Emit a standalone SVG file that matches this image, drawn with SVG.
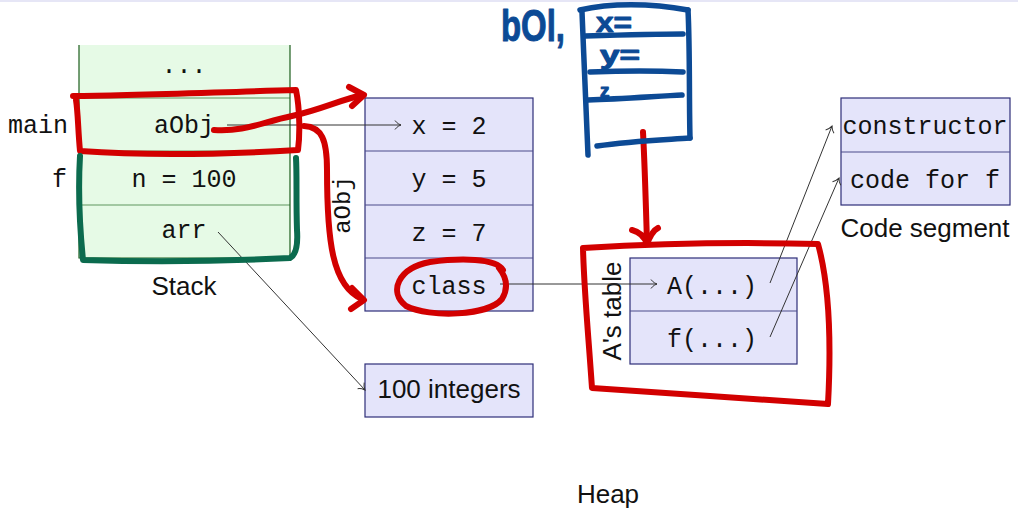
<svg xmlns="http://www.w3.org/2000/svg" width="1018" height="509" viewBox="0 0 1018 509">
  <style>
    .mono { font-family: "Liberation Mono", "DejaVu Sans Mono", monospace; font-size: 25px; fill: #111; }
    .sans { font-family: "Liberation Sans", "DejaVu Sans", sans-serif; font-size: 26px; fill: #111; }
    .stack { fill: #e6fae6; stroke: none; }
    .stack-edge { stroke: #1d5e1d; stroke-width: 1.2; fill: none; }
    .stack-sep { stroke: #5e965e; stroke-width: 1.2; }
    .cell { fill: #e4e4fa; stroke: #2e2e78; stroke-width: 1.2; }
    .sep { stroke: #4a4a8a; stroke-width: 1.2; }
    .link { stroke: #333; stroke-width: 1; fill: none; marker-end: url(#tip); }
    .red { stroke: #d20000; stroke-width: 6; fill: none; stroke-linecap: round; stroke-linejoin: round; }
    .green { stroke: #0b6b4e; stroke-width: 6; fill: none; stroke-linecap: round; stroke-linejoin: round; }
    .blue { stroke: #0c4a95; stroke-width: 5.5; fill: none; stroke-linecap: round; stroke-linejoin: round; }
    .hand { font-family: "Liberation Sans", "DejaVu Sans", sans-serif; font-weight: bold; fill: #0c4a95; stroke: #0c4a95; stroke-width: 1; stroke-linejoin: round; }
  </style>
  <defs>
    <marker id="tip" viewBox="-8 -6 10 12" markerWidth="10" markerHeight="12" refX="0" refY="0" orient="auto" markerUnits="userSpaceOnUse">
      <path d="M -6 -4.5 C -4 -1.5 -1 -0.4 0 0 C -1 0.4 -4 1.5 -6 4.5" fill="none" stroke="#333" stroke-width="1"/>
    </marker>
  </defs>

  <rect x="0" y="0" width="1018" height="509" fill="#fff"/>
  <rect x="0" y="0" width="1018" height="2" fill="#e6e6f6"/>

  <!-- call stack -->
  <g id="stack">
    <rect class="stack" x="79" y="45" width="211" height="213"/>
    <line class="stack-sep" x1="79" y1="98" x2="290" y2="98"/>
    <line class="stack-sep" x1="79" y1="151" x2="290" y2="151"/>
    <line class="stack-sep" x1="79" y1="205" x2="290" y2="205"/>
    <path class="stack-edge" d="M 79 45 L 79 258 L 290 258 L 290 45"/>
    <text class="mono" x="184" y="73" text-anchor="middle">...</text>
    <text class="mono" x="184" y="133" text-anchor="middle">aObj</text>
    <text class="mono" x="184" y="187" text-anchor="middle">n = 100</text>
    <text class="mono" x="184" y="238" text-anchor="middle">arr</text>
    <text class="mono" x="68" y="133" text-anchor="end">main</text>
    <text class="mono" x="67" y="187" text-anchor="end">f</text>
    <text class="sans" x="184" y="295" text-anchor="middle">Stack</text>
  </g>

  <!-- object aObj on the heap -->
  <g id="aobj">
    <rect class="cell" x="365" y="98" width="168" height="213"/>
    <line class="sep" x1="365" y1="151" x2="533" y2="151"/>
    <line class="sep" x1="365" y1="205" x2="533" y2="205"/>
    <line class="sep" x1="365" y1="258" x2="533" y2="258"/>
    <text class="mono" x="449" y="134" text-anchor="middle">x = 2</text>
    <text class="mono" x="449" y="187" text-anchor="middle">y = 5</text>
    <text class="mono" x="449" y="241" text-anchor="middle">z = 7</text>
    <text class="mono" x="449" y="294" text-anchor="middle">class</text>
    <text class="mono" style="font-size:24px" x="0" y="0" text-anchor="middle" transform="translate(350 205) rotate(-90)">aObj</text>
  </g>

  <!-- array of integers -->
  <g id="ints">
    <rect class="cell" x="365" y="364" width="168" height="53"/>
    <text class="sans" x="449" y="398" text-anchor="middle">100 integers</text>
  </g>

  <!-- virtual table of class A -->
  <g id="vtable">
    <rect class="cell" x="630" y="258" width="167" height="106"/>
    <line class="sep" x1="630" y1="311" x2="797" y2="311"/>
    <text class="mono" x="712" y="294" text-anchor="middle">A(...)</text>
    <text class="mono" x="712" y="347" text-anchor="middle">f(...)</text>
    <text class="sans" x="0" y="0" text-anchor="middle" transform="translate(621 311) rotate(-90)">A's table</text>
  </g>

  <!-- code segment -->
  <g id="code">
    <rect class="cell" x="841" y="98" width="169" height="107"/>
    <line class="sep" x1="841" y1="152" x2="1010" y2="152"/>
    <text class="mono" x="925" y="134" text-anchor="middle">constructor</text>
    <text class="mono" x="925" y="188" text-anchor="middle">code for f</text>
    <text class="sans" x="925" y="237" text-anchor="middle">Code segment</text>
  </g>

  <g id="heap-label">
    <text class="sans" x="608" y="503" text-anchor="middle">Heap</text>
  </g>

  <!-- pointers -->
  <g id="connectors">
    <path class="link" d="M 227 125 L 401 125"/>
    <path class="link" d="M 218 232 L 365 390"/>
    <path class="link" d="M 500 284 L 657 284"/>
    <path class="link" d="M 770 283 L 832 126"/>
    <path class="link" d="M 770 337 L 839 178"/>
  </g>

  <!-- pen annotations -->
  <g id="annotations">
    <!-- frame of main -->
    <path class="red" d="M 73 96 C 130 96 220 92 296 90 C 300 110 300 135 298 150 C 230 154 150 156 80 151 C 78 130 78 112 76 100"/>
    <!-- aObj reference -->
    <path class="red" d="M 214 130 C 245 132 262 122 292 116 C 320 110 340 100 362 95"/>
    <path class="red" d="M 349 87 L 364 95 L 352 106"/>
    <!-- extent of aObj -->
    <path class="red" d="M 304 126 C 322 127 327 140 327 170 C 327 240 332 286 362 299"/>
    <path class="red" d="M 352 288 L 364 300 L 351 309"/>
    <!-- class pointer -->
    <path class="red" d="M 503 270 C 496 258 460 258 430 262 C 398 268 388 292 406 306 C 430 318 488 316 502 299 C 508 289 507 278 499 268"/>
    <!-- bObj class pointer -->
    <path class="red" d="M 643 132 C 645 170 646 210 647 243"/>
    <path class="red" d="M 632 230 C 640 232 645 238 647 244 C 650 236 654 230 658 228"/>
    <!-- A's table -->
    <path class="red" d="M 583 248 C 650 244 740 242 818 244 C 828 280 832 330 828 404 C 760 400 660 392 592 388 C 588 330 584 290 583 248"/>
    <!-- frame of f -->
    <path class="green" d="M 80 156 C 78 190 80 230 83 260 C 150 262 230 261 290 258 C 296 255 298 245 297 230 C 296 200 297 175 296 158"/>
    <!-- bObj sketch -->
    <path class="blue" d="M 580 10 C 610 3 650 3 688 10"/>
    <path class="blue" d="M 582 12 C 584 60 586 110 588 155"/>
    <path class="blue" d="M 688 10 C 690 50 689 100 690 138"/>
    <path class="blue" d="M 597 146 C 630 141 660 140 690 138"/>
    <path class="blue" d="M 585 36 C 620 35 660 34 683 34"/>
    <path class="blue" d="M 590 72 C 620 71 660 71 683 72"/>
    <path class="blue" d="M 588 100 C 620 99 660 96 682 95"/>
    <text class="hand" x="501" y="41" font-size="44" textLength="64" lengthAdjust="spacingAndGlyphs">bOl,</text>
    <text class="hand" x="596" y="32" font-size="27" textLength="36" lengthAdjust="spacingAndGlyphs">x=</text>
    <text class="hand" x="600" y="64" font-size="25" textLength="40" lengthAdjust="spacingAndGlyphs">y=</text>
    <text class="hand" x="600" y="97" font-size="19">z</text>
  </g>
</svg>
